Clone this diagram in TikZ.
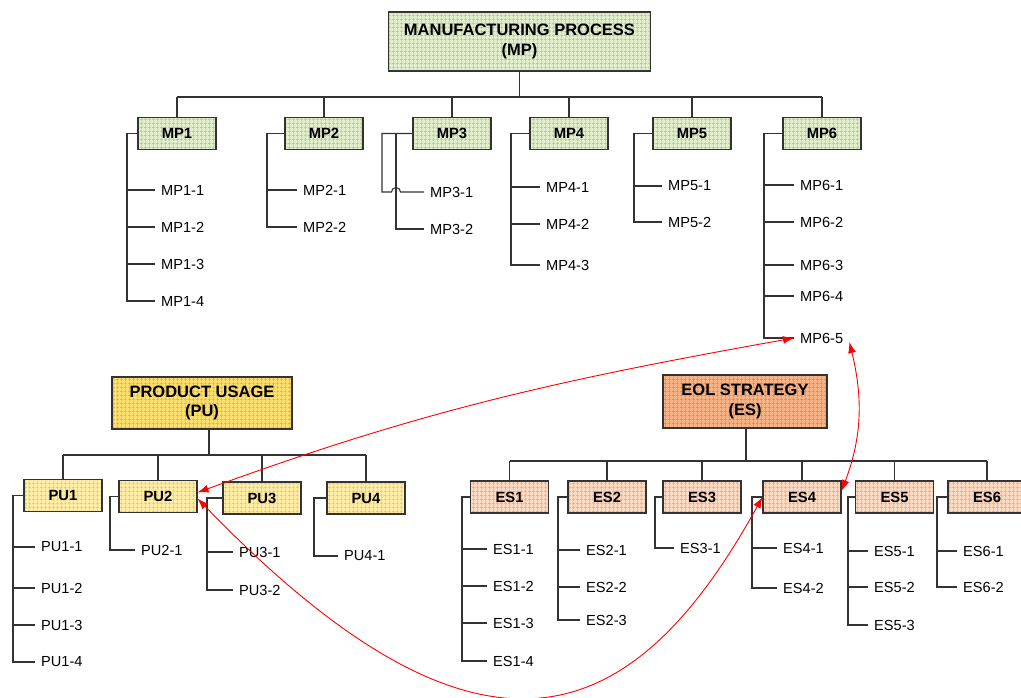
\documentclass[tikz,border=0pt]{standalone}
\usepackage{fontspec}
\setmainfont{Liberation Sans}
\usetikzlibrary{arrows.meta,patterns.meta,calc}

% fine square grid used as texture inside the boxes
\tikzdeclarepattern{
  name=boxgrid, type=uncolored,
  bounding box={(0pt,0pt) and (4pt,4pt)},
  tile size={(4pt,4pt)},
  code={
    \pgfsetlinewidth{0.8pt}
    \pgfpathmoveto{\pgfqpoint{0pt}{2pt}}\pgfpathlineto{\pgfqpoint{4pt}{2pt}}
    \pgfpathmoveto{\pgfqpoint{2pt}{0pt}}\pgfpathlineto{\pgfqpoint{2pt}{4pt}}
    \pgfusepath{stroke}
  }}

\definecolor{mpfill}{HTML}{E2EDCC}
\definecolor{mpgrid}{HTML}{AFC882}
\definecolor{pubigfill}{HTML}{FFDE70}
\definecolor{pubiggrid}{HTML}{F0B010}
\definecolor{pufill}{HTML}{FFEDA5}
\definecolor{pugrid}{HTML}{F5C740}
\definecolor{esbigfill}{HTML}{F8B486}
\definecolor{esbiggrid}{HTML}{EC8244}
\definecolor{esfill}{HTML}{FDD9C2}
\definecolor{esgrid}{HTML}{F2A772}

\tikzset{
  box/.style={draw=black!80, line width=1.1pt, inner sep=0pt, align=center,
    font=\bfseries\fontsize{14.8}{16}\selectfont},
  small/.style={box, minimum width=78pt, minimum height=32pt},
  big/.style={box, font=\bfseries\fontsize{16.5}{19.5}\selectfont},
  mpcol/.style={preaction={fill=mpfill}, pattern=boxgrid, pattern color=mpgrid},
  pubigcol/.style={preaction={fill=pubigfill}, pattern=boxgrid, pattern color=pubiggrid},
  pucol/.style={preaction={fill=pufill}, pattern=boxgrid, pattern color=pugrid},
  esbigcol/.style={preaction={fill=esbigfill}, pattern=boxgrid, pattern color=esbiggrid},
  escol/.style={preaction={fill=esfill}, pattern=boxgrid, pattern color=esgrid},
  leaf/.style={anchor=west, inner xsep=6pt, inner ysep=1pt,
    font=\fontsize{14.6}{16}\selectfont},
  link/.style={draw=black!80, line width=1.1pt},
  rel/.style={draw=red, line width=0.9pt,
    {Latex[length=11pt,width=8pt]}-{Latex[length=11pt,width=8pt]}}
}

\begin{document}
\begin{tikzpicture}[x=1pt,y=-1pt]
\useasboundingbox (0,0) rectangle (1021,697);
\clip (0,0) rectangle (1021,697);

% ---------------- Manufacturing process ----------------
\node[big, mpcol, minimum width=262pt, minimum height=59pt] (mp) at (519.5,41.5)
  {MANUFACTURING PROCESS\\(MP)};
\foreach \n/\x/\t in {mp1/177/MP1, mp2/324/MP2, mp3/452/MP3, mp4/569/MP4,
                      mp5/692/MP5, mp6/822/MP6}
  \node[small, mpcol] (\n) at (\x,133.5) {\t};

\coordinate (mpbus) at (519.5,97);
\draw[link] (mp.south) -- (mpbus);
\draw[link] (mp1.north |- mpbus) -- (mp6.north |- mpbus);
\foreach \b in {mp1,mp2,mp3,mp4,mp5,mp6}
  \draw[link] (\b.north |- mpbus) -- (\b.north);

% leaves
\foreach \n/\y/\t in {mp11/190/MP1-1, mp12/227/MP1-2, mp13/264/MP1-3, mp14/301/MP1-4}
  \node[leaf] (\n) at (155,\y) {\t};
\foreach \n/\y/\t in {mp21/190/MP2-1, mp22/227/MP2-2}
  \node[leaf] (\n) at (297,\y) {\t};
\foreach \n/\y/\t in {mp31/192/MP3-1, mp32/229/MP3-2}
  \node[leaf] (\n) at (424,\y) {\t};
\foreach \n/\y/\t in {mp41/187/MP4-1, mp42/224/MP4-2, mp43/265/MP4-3}
  \node[leaf] (\n) at (540,\y) {\t};
\foreach \n/\y/\t in {mp51/186/MP5-1, mp52/222/MP5-2}
  \node[leaf] (\n) at (662,\y) {\t};
\foreach \n/\y/\t in {mp61/185/MP6-1, mp62/222/MP6-2, mp63/265/MP6-3,
                      mp64/296/MP6-4, mp65/338/MP6-5}
  \node[leaf] (\n) at (794,\y) {\t};

\coordinate (v1) at (127,0);
\draw[link] (mp1.west) -| (v1 |- mp14.west) -- (mp14.west);
\foreach \c in {mp11,mp12,mp13} \draw[link] (v1 |- \c.west) -- (\c.west);

\coordinate (v2) at (267,0);
\draw[link] (mp2.west) -| (v2 |- mp22.west) -- (mp22.west);
\draw[link] (v2 |- mp21.west) -- (mp21.west);

\coordinate (v3a) at (382,0);
\coordinate (v3b) at (396,0);
\draw[link] (mp3.west) -| (v3a |- mp31.west)
  -- ($(v3b |- mp31.west)+(-4.5,0)$) arc (180:360:4.5) -- (mp31.west);
\draw[link] (mp3.west) -| (v3b |- mp32.west) -- (mp32.west);

\coordinate (v4) at (511,0);
\draw[link] (mp4.west) -| (v4 |- mp43.west) -- (mp43.west);
\foreach \c in {mp41,mp42} \draw[link] (v4 |- \c.west) -- (\c.west);

\coordinate (v5) at (634,0);
\draw[link] (mp5.west) -| (v5 |- mp52.west) -- (mp52.west);
\draw[link] (v5 |- mp51.west) -- (mp51.west);

\coordinate (v6) at (764,0);
\draw[link] (mp6.west) -| (v6 |- mp65.west) -- (mp65.west);
\foreach \c in {mp61,mp62,mp63,mp64} \draw[link] (v6 |- \c.west) -- (\c.west);

% ---------------- Product usage ----------------
\node[big, pubigcol, minimum width=180pt, minimum height=52pt] (pu) at (202,403)
  {PRODUCT USAGE\\(PU)};
\node[small, pucol] (pu1) at (63,495.5) {PU1};
\node[small, pucol] (pu2) at (158,496.5) {PU2};
\node[small, pucol] (pu3) at (262,498) {PU3};
\node[small, pucol] (pu4) at (366,498) {PU4};

\coordinate (pubus) at (209,455);
\draw[link] (pubus |- pu.south) -- (pubus);
\draw[link] (pu1.north |- pubus) -- (pu4.north |- pubus);
\foreach \b in {pu1,pu2,pu3,pu4}
  \draw[link] (\b.north |- pubus) -- (\b.north);

\foreach \n/\y/\t in {pu11/547/PU1-1, pu12/588/PU1-2, pu13/625/PU1-3, pu14/662/PU1-4}
  \node[leaf] (\n) at (35,\y) {\t};
\node[leaf] (pu21) at (135,550) {PU2-1};
\foreach \n/\y/\t in {pu31/552/PU3-1, pu32/590/PU3-2}
  \node[leaf] (\n) at (233,\y) {\t};
\node[leaf] (pu41) at (338,556) {PU4-1};

\coordinate (w1) at (13,0);
\draw[link] (pu1.west) -| (w1 |- pu14.west) -- (pu14.west);
\foreach \c in {pu11,pu12,pu13} \draw[link] (w1 |- \c.west) -- (\c.west);
\coordinate (w2) at (110,0);
\draw[link] (pu2.west) -| (w2 |- pu21.west) -- (pu21.west);
\coordinate (w3) at (207,0);
\draw[link] (pu3.west) -| (w3 |- pu32.west) -- (pu32.west);
\draw[link] (w3 |- pu31.west) -- (pu31.west);
\coordinate (w4) at (314,0);
\draw[link] (pu4.west) -| (w4 |- pu41.west) -- (pu41.west);

% ---------------- EOL strategy ----------------
\node[big, esbigcol, minimum width=164pt, minimum height=53pt] (es) at (745,401.5)
  {EOL STRATEGY\\(ES)};
\foreach \n/\x/\t in {es1/509.5/ES1, es2/607/ES2, es3/702/ES3, es4/802/ES4,
                      es5/894.5/ES5, es6/987/ES6}
  \node[small, escol] (\n) at (\x,497) {\t};

\coordinate (esbus) at (746,461);
\draw[link] (esbus |- es.south) -- (esbus);
\draw[link] (es1.north |- esbus) -- (es6.north |- esbus);
\foreach \b in {es1,es2,es3,es4,es5,es6}
  \draw[link] (\b.north |- esbus) -- (\b.north);

\foreach \n/\y/\t in {es11/549/ES1-1, es12/586/ES1-2, es13/623/ES1-3, es14/661/ES1-4}
  \node[leaf] (\n) at (487,\y) {\t};
\foreach \n/\y/\t in {es21/550/ES2-1, es22/587/ES2-2, es23/620/ES2-3}
  \node[leaf] (\n) at (580,\y) {\t};
\node[leaf] (es31) at (674,548) {ES3-1};
\foreach \n/\y/\t in {es41/548/ES4-1, es42/588/ES4-2}
  \node[leaf] (\n) at (777,\y) {\t};
\foreach \n/\y/\t in {es51/551/ES5-1, es52/587/ES5-2, es53/625/ES5-3}
  \node[leaf] (\n) at (868,\y) {\t};
\foreach \n/\y/\t in {es61/551/ES6-1, es62/587/ES6-2}
  \node[leaf] (\n) at (957,\y) {\t};

\coordinate (u1) at (462,0);
\draw[link] (es1.west) -| (u1 |- es14.west) -- (es14.west);
\foreach \c in {es11,es12,es13} \draw[link] (u1 |- \c.west) -- (\c.west);
\coordinate (u2) at (558,0);
\draw[link] (es2.west) -| (u2 |- es23.west) -- (es23.west);
\foreach \c in {es21,es22} \draw[link] (u2 |- \c.west) -- (\c.west);
\coordinate (u3) at (655,0);
\draw[link] (es3.west) -| (u3 |- es31.west) -- (es31.west);
\coordinate (u4) at (752,0);
\draw[link] (es4.west) -| (u4 |- es42.west) -- (es42.west);
\draw[link] (u4 |- es41.west) -- (es41.west);
\coordinate (u5) at (848,0);
\draw[link] (es5.west) -| (u5 |- es53.west) -- (es53.west);
\foreach \c in {es51,es52} \draw[link] (u5 |- \c.west) -- (\c.west);
\coordinate (u6) at (937,0);
\draw[link] (es6.west) -| (u6 |- es62.west) -- (es62.west);
\draw[link] (u6 |- es61.west) -- (es61.west);

% ---------------- cross relations ----------------
\draw[rel] ([yshift=4pt]pu2.east) .. controls (423,410) and (559,380) .. (mp65.west);
\draw[rel] ([yshift=-4pt]mp65.east) .. controls (863,398) and (862,437) .. ([yshift=6pt]es4.east);
\draw[rel] ([yshift=-2pt]pu2.east) .. controls (485,796) and (635,728) .. (es4.west);
\end{tikzpicture}
\end{document}
